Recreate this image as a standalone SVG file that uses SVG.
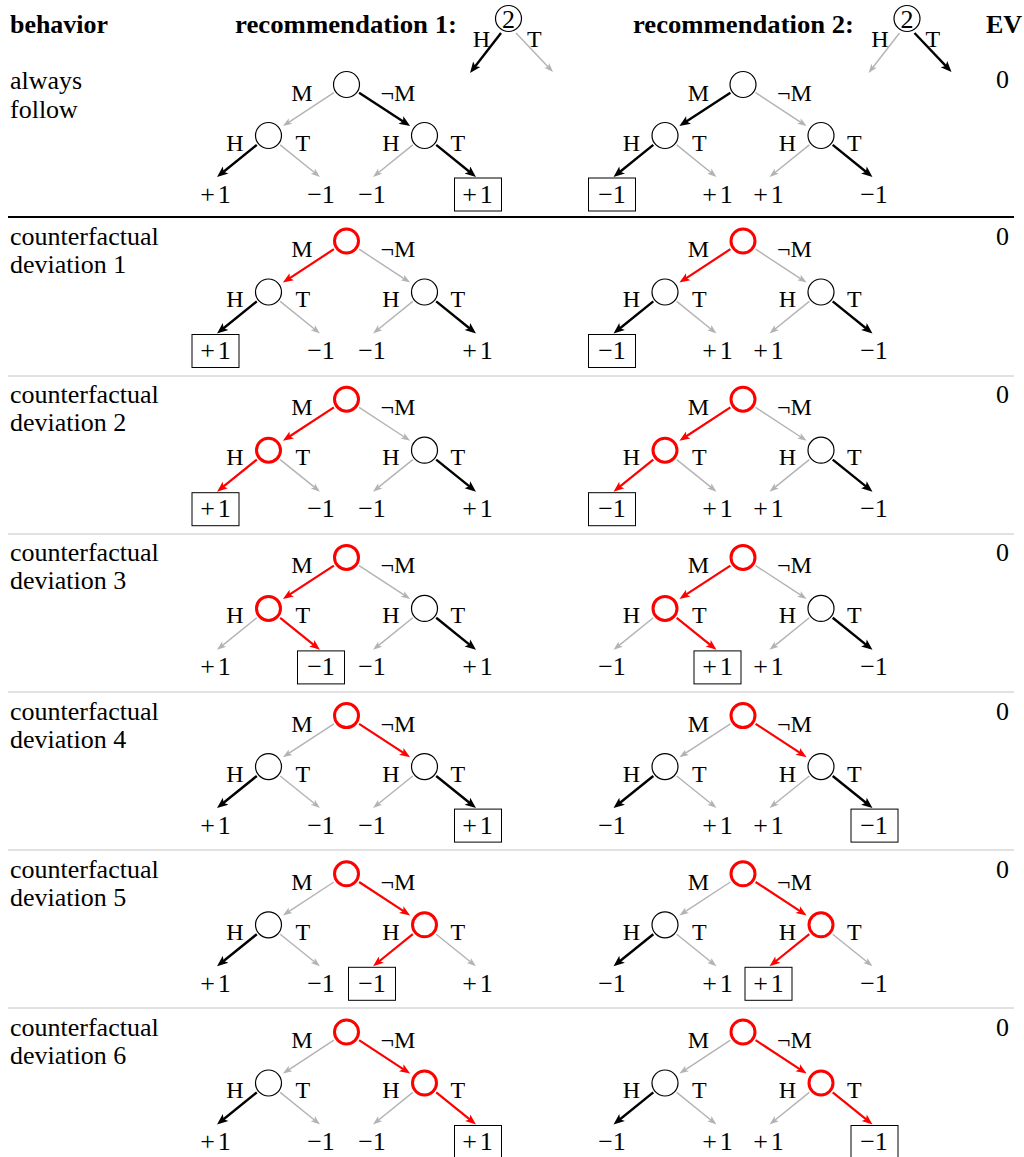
<svg xmlns="http://www.w3.org/2000/svg" width="1024" height="1157" viewBox="0 0 1024 1157">
<style>
text{font-family:"Liberation Serif","Times New Roman",serif;font-size:24px;fill:#000}
.g{font-size:26px}
.lf{font-size:26px;text-anchor:middle}
.b{font-weight:bold;font-size:26px}
.m{text-anchor:middle}
.e{text-anchor:end}
.n{fill:#fff;stroke:#000;stroke-width:1.2}
.nr{fill:#fff;stroke:#f00;stroke-width:3}
.eb{fill:none;stroke:#000;stroke-width:2.4;marker-end:url(#ab)}
.eg{fill:none;stroke:#b3b3b3;stroke-width:1.4;marker-end:url(#ag)}
.er{fill:none;stroke:#f00;stroke-width:2.2;marker-end:url(#ar)}
.bx{fill:none;stroke:#000;stroke-width:1}
.sep{stroke:#c4c4c4;stroke-width:1}
</style>
<defs>
<marker id="ab" markerUnits="userSpaceOnUse" orient="auto" refX="0" refY="0" markerWidth="20" markerHeight="20" overflow="visible"><path d="M6,0 L-5,-4.5 L-2.5,0 L-5,4.5 Z" fill="#000"/></marker>
<marker id="ag" markerUnits="userSpaceOnUse" orient="auto" refX="0" refY="0" markerWidth="20" markerHeight="20" overflow="visible"><path d="M6,0 L-3.2,-3.3 L-1,0 L-3.2,3.3 Z" fill="#b3b3b3"/></marker>
<marker id="ar" markerUnits="userSpaceOnUse" orient="auto" refX="0" refY="0" markerWidth="20" markerHeight="20" overflow="visible"><path d="M6,0 L-4.6,-4.1 L-2.2,0 L-4.6,4.1 Z" fill="#f00"/></marker>
</defs>
<rect width="1024" height="1157" fill="#fff"/>

<g id="header">
<text class="b" x="10" y="33" textLength="98" lengthAdjust="spacingAndGlyphs">behavior</text>
<text class="b" x="235" y="33" textLength="222" lengthAdjust="spacingAndGlyphs">recommendation 1:</text>
<text class="b" x="633" y="33" textLength="221" lengthAdjust="spacingAndGlyphs">recommendation 2:</text>
<text class="b m" x="1004" y="33">EV</text>
</g>

<g id="rec1">
<g id="rec1-edges">
<path class="eb" d="M501,33 L473.7,68.3"/>
<path class="eg" d="M516,33 L548.9,67.7"/>
</g>
<g id="rec1-node"><circle class="n" cx="508.5" cy="18.5" r="13"/><text class="m g" x="508.5" y="27.5">2</text></g>
<text class="e" x="490" y="47">H</text><text x="527" y="47">T</text>
</g>
<g id="rec2">
<g id="rec2-edges">
<path class="eg" d="M899.5,33 L872.2,68.3"/>
<path class="eb" d="M914.5,33 L947.4,67.7"/>
</g>
<g id="rec2-node"><circle class="n" cx="907" cy="18.5" r="13"/><text class="m g" x="907" y="27.5">2</text></g>
<text class="e" x="888.5" y="47">H</text><text x="925.5" y="47">T</text>
</g>

<g id="rules">
<line x1="8" y1="217" x2="1014" y2="217" stroke="#000" stroke-width="2"/>
<line class="sep" x1="8" y1="376" x2="1014" y2="376"/>
<line class="sep" x1="8" y1="534" x2="1014" y2="534"/>
<line class="sep" x1="8" y1="692" x2="1014" y2="692"/>
<line class="sep" x1="8" y1="850" x2="1014" y2="850"/>
<line class="sep" x1="8" y1="1008" x2="1014" y2="1008"/>
</g>

<g id="rowlabels">
<text class="g" x="10" y="89">always</text>
<text class="g" x="10" y="117.5">follow</text>
<text class="g" x="10" y="245">counterfactual</text>
<text class="g" x="10" y="273">deviation 1</text>
<text class="g" x="10" y="403.2">counterfactual</text>
<text class="g" x="10" y="431.2">deviation 2</text>
<text class="g" x="10" y="561.4">counterfactual</text>
<text class="g" x="10" y="589.4">deviation 3</text>
<text class="g" x="10" y="719.6">counterfactual</text>
<text class="g" x="10" y="747.6">deviation 4</text>
<text class="g" x="10" y="877.8">counterfactual</text>
<text class="g" x="10" y="905.8">deviation 5</text>
<text class="g" x="10" y="1036">counterfactual</text>
<text class="g" x="10" y="1064">deviation 6</text>
</g>

<g id="ev">
<text class="g m" x="1002.5" y="88">0</text>
<text class="g m" x="1002.5" y="245">0</text>
<text class="g m" x="1002.5" y="403.2">0</text>
<text class="g m" x="1002.5" y="561.4">0</text>
<text class="g m" x="1002.5" y="719.6">0</text>
<text class="g m" x="1002.5" y="877.8">0</text>
<text class="g m" x="1002.5" y="1036">0</text>
</g>

<!-- Row 0 -->
<g id="r0t1" transform="translate(346.5,84.5)">
<g id="r0t1-edges">
<path class="eg" d="M-12.6,8.2 L-58.6,38.3"/><path class="eb" d="M12.6,8.2 L58.6,38.3"/>
<path class="eb" d="M-89.7,60.4 L-124.8,88.7"/><path class="eg" d="M-66.3,60.4 L-31.2,88.7"/>
<path class="eg" d="M66.3,60.4 L31.2,88.7"/><path class="eb" d="M89.7,60.4 L124.8,88.7"/>
</g>
<g id="r0t1-root"><circle class="n" r="13"/></g>
<g id="r0t1-l"><circle class="n" cx="-78" cy="51" r="13"/></g>
<g id="r0t1-r"><circle class="n" cx="78" cy="51" r="13"/></g>
<text class="e" x="-34" y="16">M</text><text x="34" y="16">¬M</text>
<text class="e" x="-103" y="66">H</text><text x="-51" y="66">T</text>
<text class="e" x="53" y="66">H</text><text x="104" y="66">T</text>
<text class="lf" x="-131" y="118">+<tspan dx="3">1</tspan></text>
<text class="lf" x="-25.5" y="118">−1</text>
<text class="lf" x="25.5" y="118">−1</text>
<text class="lf" x="131" y="118">+<tspan dx="3">1</tspan></text>
<rect class="bx" x="108" y="93.5" width="47" height="33"/>
</g>
<g id="r0t2" transform="translate(743,84.5)">
<g id="r0t2-edges">
<path class="eb" d="M-12.6,8.2 L-58.6,38.3"/><path class="eg" d="M12.6,8.2 L58.6,38.3"/>
<path class="eb" d="M-89.7,60.4 L-124.8,88.7"/><path class="eg" d="M-66.3,60.4 L-31.2,88.7"/>
<path class="eg" d="M66.3,60.4 L31.2,88.7"/><path class="eb" d="M89.7,60.4 L124.8,88.7"/>
</g>
<g id="r0t2-root"><circle class="n" r="13"/></g>
<g id="r0t2-l"><circle class="n" cx="-78" cy="51" r="13"/></g>
<g id="r0t2-r"><circle class="n" cx="78" cy="51" r="13"/></g>
<text class="e" x="-34" y="16">M</text><text x="34" y="16">¬M</text>
<text class="e" x="-103" y="66">H</text><text x="-51" y="66">T</text>
<text class="e" x="53" y="66">H</text><text x="104" y="66">T</text>
<text class="lf" x="-131" y="118">−1</text>
<text class="lf" x="-25.5" y="118">+<tspan dx="3">1</tspan></text>
<text class="lf" x="25.5" y="118">+<tspan dx="3">1</tspan></text>
<text class="lf" x="131" y="118">−1</text>
<rect class="bx" x="-154.5" y="93.5" width="47" height="33"/>
</g>

<!-- Row 1 -->
<g id="r1t1" transform="translate(346.5,241)">
<g id="r1t1-edges">
<path class="er" d="M-12.6,8.2 L-58.6,38.3"/><path class="eg" d="M12.6,8.2 L58.6,38.3"/>
<path class="eb" d="M-89.7,60.4 L-124.8,88.7"/><path class="eg" d="M-66.3,60.4 L-31.2,88.7"/>
<path class="eg" d="M66.3,60.4 L31.2,88.7"/><path class="eb" d="M89.7,60.4 L124.8,88.7"/>
</g>
<g id="r1t1-root"><circle class="nr" r="12"/></g>
<g id="r1t1-l"><circle class="n" cx="-78" cy="51" r="13"/></g>
<g id="r1t1-r"><circle class="n" cx="78" cy="51" r="13"/></g>
<text class="e" x="-34" y="16">M</text><text x="34" y="16">¬M</text>
<text class="e" x="-103" y="66">H</text><text x="-51" y="66">T</text>
<text class="e" x="53" y="66">H</text><text x="104" y="66">T</text>
<text class="lf" x="-131" y="118">+<tspan dx="3">1</tspan></text>
<text class="lf" x="-25.5" y="118">−1</text>
<text class="lf" x="25.5" y="118">−1</text>
<text class="lf" x="131" y="118">+<tspan dx="3">1</tspan></text>
<rect class="bx" x="-154.5" y="93.5" width="47" height="33"/>
</g>
<g id="r1t2" transform="translate(743,241)">
<g id="r1t2-edges">
<path class="er" d="M-12.6,8.2 L-58.6,38.3"/><path class="eg" d="M12.6,8.2 L58.6,38.3"/>
<path class="eb" d="M-89.7,60.4 L-124.8,88.7"/><path class="eg" d="M-66.3,60.4 L-31.2,88.7"/>
<path class="eg" d="M66.3,60.4 L31.2,88.7"/><path class="eb" d="M89.7,60.4 L124.8,88.7"/>
</g>
<g id="r1t2-root"><circle class="nr" r="12"/></g>
<g id="r1t2-l"><circle class="n" cx="-78" cy="51" r="13"/></g>
<g id="r1t2-r"><circle class="n" cx="78" cy="51" r="13"/></g>
<text class="e" x="-34" y="16">M</text><text x="34" y="16">¬M</text>
<text class="e" x="-103" y="66">H</text><text x="-51" y="66">T</text>
<text class="e" x="53" y="66">H</text><text x="104" y="66">T</text>
<text class="lf" x="-131" y="118">−1</text>
<text class="lf" x="-25.5" y="118">+<tspan dx="3">1</tspan></text>
<text class="lf" x="25.5" y="118">+<tspan dx="3">1</tspan></text>
<text class="lf" x="131" y="118">−1</text>
<rect class="bx" x="-154.5" y="93.5" width="47" height="33"/>
</g>

<!-- Row 2 -->
<g id="r2t1" transform="translate(346.5,399.2)">
<g id="r2t1-edges">
<path class="er" d="M-12.6,8.2 L-58.6,38.3"/><path class="eg" d="M12.6,8.2 L58.6,38.3"/>
<path class="er" d="M-89.7,60.4 L-124.8,88.7"/><path class="eg" d="M-66.3,60.4 L-31.2,88.7"/>
<path class="eg" d="M66.3,60.4 L31.2,88.7"/><path class="eb" d="M89.7,60.4 L124.8,88.7"/>
</g>
<g id="r2t1-root"><circle class="nr" r="12"/></g>
<g id="r2t1-l"><circle class="nr" cx="-78" cy="51" r="12"/></g>
<g id="r2t1-r"><circle class="n" cx="78" cy="51" r="13"/></g>
<text class="e" x="-34" y="16">M</text><text x="34" y="16">¬M</text>
<text class="e" x="-103" y="66">H</text><text x="-51" y="66">T</text>
<text class="e" x="53" y="66">H</text><text x="104" y="66">T</text>
<text class="lf" x="-131" y="118">+<tspan dx="3">1</tspan></text>
<text class="lf" x="-25.5" y="118">−1</text>
<text class="lf" x="25.5" y="118">−1</text>
<text class="lf" x="131" y="118">+<tspan dx="3">1</tspan></text>
<rect class="bx" x="-154.5" y="93.5" width="47" height="33"/>
</g>
<g id="r2t2" transform="translate(743,399.2)">
<g id="r2t2-edges">
<path class="er" d="M-12.6,8.2 L-58.6,38.3"/><path class="eg" d="M12.6,8.2 L58.6,38.3"/>
<path class="er" d="M-89.7,60.4 L-124.8,88.7"/><path class="eg" d="M-66.3,60.4 L-31.2,88.7"/>
<path class="eg" d="M66.3,60.4 L31.2,88.7"/><path class="eb" d="M89.7,60.4 L124.8,88.7"/>
</g>
<g id="r2t2-root"><circle class="nr" r="12"/></g>
<g id="r2t2-l"><circle class="nr" cx="-78" cy="51" r="12"/></g>
<g id="r2t2-r"><circle class="n" cx="78" cy="51" r="13"/></g>
<text class="e" x="-34" y="16">M</text><text x="34" y="16">¬M</text>
<text class="e" x="-103" y="66">H</text><text x="-51" y="66">T</text>
<text class="e" x="53" y="66">H</text><text x="104" y="66">T</text>
<text class="lf" x="-131" y="118">−1</text>
<text class="lf" x="-25.5" y="118">+<tspan dx="3">1</tspan></text>
<text class="lf" x="25.5" y="118">+<tspan dx="3">1</tspan></text>
<text class="lf" x="131" y="118">−1</text>
<rect class="bx" x="-154.5" y="93.5" width="47" height="33"/>
</g>

<!-- Row 3 -->
<g id="r3t1" transform="translate(346.5,557.4)">
<g id="r3t1-edges">
<path class="er" d="M-12.6,8.2 L-58.6,38.3"/><path class="eg" d="M12.6,8.2 L58.6,38.3"/>
<path class="eg" d="M-89.7,60.4 L-124.8,88.7"/><path class="er" d="M-66.3,60.4 L-31.2,88.7"/>
<path class="eg" d="M66.3,60.4 L31.2,88.7"/><path class="eb" d="M89.7,60.4 L124.8,88.7"/>
</g>
<g id="r3t1-root"><circle class="nr" r="12"/></g>
<g id="r3t1-l"><circle class="nr" cx="-78" cy="51" r="12"/></g>
<g id="r3t1-r"><circle class="n" cx="78" cy="51" r="13"/></g>
<text class="e" x="-34" y="16">M</text><text x="34" y="16">¬M</text>
<text class="e" x="-103" y="66">H</text><text x="-51" y="66">T</text>
<text class="e" x="53" y="66">H</text><text x="104" y="66">T</text>
<text class="lf" x="-131" y="118">+<tspan dx="3">1</tspan></text>
<text class="lf" x="-25.5" y="118">−1</text>
<text class="lf" x="25.5" y="118">−1</text>
<text class="lf" x="131" y="118">+<tspan dx="3">1</tspan></text>
<rect class="bx" x="-49" y="93.5" width="47" height="33"/>
</g>
<g id="r3t2" transform="translate(743,557.4)">
<g id="r3t2-edges">
<path class="er" d="M-12.6,8.2 L-58.6,38.3"/><path class="eg" d="M12.6,8.2 L58.6,38.3"/>
<path class="eg" d="M-89.7,60.4 L-124.8,88.7"/><path class="er" d="M-66.3,60.4 L-31.2,88.7"/>
<path class="eg" d="M66.3,60.4 L31.2,88.7"/><path class="eb" d="M89.7,60.4 L124.8,88.7"/>
</g>
<g id="r3t2-root"><circle class="nr" r="12"/></g>
<g id="r3t2-l"><circle class="nr" cx="-78" cy="51" r="12"/></g>
<g id="r3t2-r"><circle class="n" cx="78" cy="51" r="13"/></g>
<text class="e" x="-34" y="16">M</text><text x="34" y="16">¬M</text>
<text class="e" x="-103" y="66">H</text><text x="-51" y="66">T</text>
<text class="e" x="53" y="66">H</text><text x="104" y="66">T</text>
<text class="lf" x="-131" y="118">−1</text>
<text class="lf" x="-25.5" y="118">+<tspan dx="3">1</tspan></text>
<text class="lf" x="25.5" y="118">+<tspan dx="3">1</tspan></text>
<text class="lf" x="131" y="118">−1</text>
<rect class="bx" x="-49" y="93.5" width="47" height="33"/>
</g>

<!-- Row 4 -->
<g id="r4t1" transform="translate(346.5,715.6)">
<g id="r4t1-edges">
<path class="eg" d="M-12.6,8.2 L-58.6,38.3"/><path class="er" d="M12.6,8.2 L58.6,38.3"/>
<path class="eb" d="M-89.7,60.4 L-124.8,88.7"/><path class="eg" d="M-66.3,60.4 L-31.2,88.7"/>
<path class="eg" d="M66.3,60.4 L31.2,88.7"/><path class="eb" d="M89.7,60.4 L124.8,88.7"/>
</g>
<g id="r4t1-root"><circle class="nr" r="12"/></g>
<g id="r4t1-l"><circle class="n" cx="-78" cy="51" r="13"/></g>
<g id="r4t1-r"><circle class="n" cx="78" cy="51" r="13"/></g>
<text class="e" x="-34" y="16">M</text><text x="34" y="16">¬M</text>
<text class="e" x="-103" y="66">H</text><text x="-51" y="66">T</text>
<text class="e" x="53" y="66">H</text><text x="104" y="66">T</text>
<text class="lf" x="-131" y="118">+<tspan dx="3">1</tspan></text>
<text class="lf" x="-25.5" y="118">−1</text>
<text class="lf" x="25.5" y="118">−1</text>
<text class="lf" x="131" y="118">+<tspan dx="3">1</tspan></text>
<rect class="bx" x="108" y="93.5" width="47" height="33"/>
</g>
<g id="r4t2" transform="translate(743,715.6)">
<g id="r4t2-edges">
<path class="eg" d="M-12.6,8.2 L-58.6,38.3"/><path class="er" d="M12.6,8.2 L58.6,38.3"/>
<path class="eb" d="M-89.7,60.4 L-124.8,88.7"/><path class="eg" d="M-66.3,60.4 L-31.2,88.7"/>
<path class="eg" d="M66.3,60.4 L31.2,88.7"/><path class="eb" d="M89.7,60.4 L124.8,88.7"/>
</g>
<g id="r4t2-root"><circle class="nr" r="12"/></g>
<g id="r4t2-l"><circle class="n" cx="-78" cy="51" r="13"/></g>
<g id="r4t2-r"><circle class="n" cx="78" cy="51" r="13"/></g>
<text class="e" x="-34" y="16">M</text><text x="34" y="16">¬M</text>
<text class="e" x="-103" y="66">H</text><text x="-51" y="66">T</text>
<text class="e" x="53" y="66">H</text><text x="104" y="66">T</text>
<text class="lf" x="-131" y="118">−1</text>
<text class="lf" x="-25.5" y="118">+<tspan dx="3">1</tspan></text>
<text class="lf" x="25.5" y="118">+<tspan dx="3">1</tspan></text>
<text class="lf" x="131" y="118">−1</text>
<rect class="bx" x="108" y="93.5" width="47" height="33"/>
</g>

<!-- Row 5 -->
<g id="r5t1" transform="translate(346.5,873.8)">
<g id="r5t1-edges">
<path class="eg" d="M-12.6,8.2 L-58.6,38.3"/><path class="er" d="M12.6,8.2 L58.6,38.3"/>
<path class="eb" d="M-89.7,60.4 L-124.8,88.7"/><path class="eg" d="M-66.3,60.4 L-31.2,88.7"/>
<path class="er" d="M66.3,60.4 L31.2,88.7"/><path class="eg" d="M89.7,60.4 L124.8,88.7"/>
</g>
<g id="r5t1-root"><circle class="nr" r="12"/></g>
<g id="r5t1-l"><circle class="n" cx="-78" cy="51" r="13"/></g>
<g id="r5t1-r"><circle class="nr" cx="78" cy="51" r="12"/></g>
<text class="e" x="-34" y="16">M</text><text x="34" y="16">¬M</text>
<text class="e" x="-103" y="66">H</text><text x="-51" y="66">T</text>
<text class="e" x="53" y="66">H</text><text x="104" y="66">T</text>
<text class="lf" x="-131" y="118">+<tspan dx="3">1</tspan></text>
<text class="lf" x="-25.5" y="118">−1</text>
<text class="lf" x="25.5" y="118">−1</text>
<text class="lf" x="131" y="118">+<tspan dx="3">1</tspan></text>
<rect class="bx" x="2" y="93.5" width="47" height="33"/>
</g>
<g id="r5t2" transform="translate(743,873.8)">
<g id="r5t2-edges">
<path class="eg" d="M-12.6,8.2 L-58.6,38.3"/><path class="er" d="M12.6,8.2 L58.6,38.3"/>
<path class="eb" d="M-89.7,60.4 L-124.8,88.7"/><path class="eg" d="M-66.3,60.4 L-31.2,88.7"/>
<path class="er" d="M66.3,60.4 L31.2,88.7"/><path class="eg" d="M89.7,60.4 L124.8,88.7"/>
</g>
<g id="r5t2-root"><circle class="nr" r="12"/></g>
<g id="r5t2-l"><circle class="n" cx="-78" cy="51" r="13"/></g>
<g id="r5t2-r"><circle class="nr" cx="78" cy="51" r="12"/></g>
<text class="e" x="-34" y="16">M</text><text x="34" y="16">¬M</text>
<text class="e" x="-103" y="66">H</text><text x="-51" y="66">T</text>
<text class="e" x="53" y="66">H</text><text x="104" y="66">T</text>
<text class="lf" x="-131" y="118">−1</text>
<text class="lf" x="-25.5" y="118">+<tspan dx="3">1</tspan></text>
<text class="lf" x="25.5" y="118">+<tspan dx="3">1</tspan></text>
<text class="lf" x="131" y="118">−1</text>
<rect class="bx" x="2" y="93.5" width="47" height="33"/>
</g>

<!-- Row 6 -->
<g id="r6t1" transform="translate(346.5,1032)">
<g id="r6t1-edges">
<path class="eg" d="M-12.6,8.2 L-58.6,38.3"/><path class="er" d="M12.6,8.2 L58.6,38.3"/>
<path class="eb" d="M-89.7,60.4 L-124.8,88.7"/><path class="eg" d="M-66.3,60.4 L-31.2,88.7"/>
<path class="eg" d="M66.3,60.4 L31.2,88.7"/><path class="er" d="M89.7,60.4 L124.8,88.7"/>
</g>
<g id="r6t1-root"><circle class="nr" r="12"/></g>
<g id="r6t1-l"><circle class="n" cx="-78" cy="51" r="13"/></g>
<g id="r6t1-r"><circle class="nr" cx="78" cy="51" r="12"/></g>
<text class="e" x="-34" y="16">M</text><text x="34" y="16">¬M</text>
<text class="e" x="-103" y="66">H</text><text x="-51" y="66">T</text>
<text class="e" x="53" y="66">H</text><text x="104" y="66">T</text>
<text class="lf" x="-131" y="118">+<tspan dx="3">1</tspan></text>
<text class="lf" x="-25.5" y="118">−1</text>
<text class="lf" x="25.5" y="118">−1</text>
<text class="lf" x="131" y="118">+<tspan dx="3">1</tspan></text>
<rect class="bx" x="108" y="93.5" width="47" height="33"/>
</g>
<g id="r6t2" transform="translate(743,1032)">
<g id="r6t2-edges">
<path class="eg" d="M-12.6,8.2 L-58.6,38.3"/><path class="er" d="M12.6,8.2 L58.6,38.3"/>
<path class="eb" d="M-89.7,60.4 L-124.8,88.7"/><path class="eg" d="M-66.3,60.4 L-31.2,88.7"/>
<path class="eg" d="M66.3,60.4 L31.2,88.7"/><path class="er" d="M89.7,60.4 L124.8,88.7"/>
</g>
<g id="r6t2-root"><circle class="nr" r="12"/></g>
<g id="r6t2-l"><circle class="n" cx="-78" cy="51" r="13"/></g>
<g id="r6t2-r"><circle class="nr" cx="78" cy="51" r="12"/></g>
<text class="e" x="-34" y="16">M</text><text x="34" y="16">¬M</text>
<text class="e" x="-103" y="66">H</text><text x="-51" y="66">T</text>
<text class="e" x="53" y="66">H</text><text x="104" y="66">T</text>
<text class="lf" x="-131" y="118">−1</text>
<text class="lf" x="-25.5" y="118">+<tspan dx="3">1</tspan></text>
<text class="lf" x="25.5" y="118">+<tspan dx="3">1</tspan></text>
<text class="lf" x="131" y="118">−1</text>
<rect class="bx" x="108" y="93.5" width="47" height="33"/>
</g>
</svg>
